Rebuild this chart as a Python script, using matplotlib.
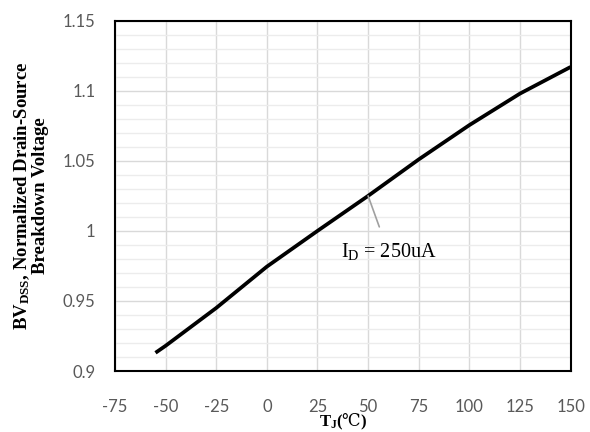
import numpy as np
import matplotlib.pyplot as plt
from matplotlib.ticker import MultipleLocator

# data
temp = [-55, -50, -25, 0, 25, 50, 75, 100, 125, 150]
bv_norm = [0.913, 0.918, 0.945, 0.9745, 1.0, 1.025, 1.051, 1.0755, 1.098, 1.117]
xticks = [-75, -50, -25, 0, 25, 50, 75, 100, 125, 150]
yticks = [0.9, 0.95, 1.0, 1.05, 1.1, 1.15]
ytick_labels = ["0.9", "0.95", "1", "1.05", "1.1", "1.15"]

plt.rcParams['axes.unicode_minus'] = False
plt.rcParams['mathtext.fontset'] = 'custom'
plt.rcParams['mathtext.rm'] = 'Liberation Serif'
plt.rcParams['mathtext.it'] = 'Liberation Serif:italic'
plt.rcParams['mathtext.bf'] = 'Liberation Serif:bold'
plt.rcParams['mathtext.sf'] = 'DejaVu Serif'

fig = plt.figure(figsize=(5.9, 4.32), dpi=100)
ax = fig.add_axes([0.1949, 0.1412, 0.7722, 0.8108])

ax.plot(temp, bv_norm, color='black', linewidth=2.7, solid_capstyle='butt', zorder=3)

ax.set_xlim(-75, 150)
ax.set_ylim(0.9, 1.15)
ax.set_xticks(xticks)
ax.set_yticks(yticks)
ax.set_yticklabels(ytick_labels)
ax.yaxis.set_minor_locator(MultipleLocator(0.01))

ax.grid(which='major', color='#d9d9d9', linewidth=1.0)
ax.grid(which='minor', axis='y', color='#ececec', linewidth=1.0)
ax.set_axisbelow(True)
ax.tick_params(which='both', length=0, labelsize=12, labelcolor='#595959')
ax.tick_params(axis='x', pad=20)
ax.tick_params(axis='y', pad=14)
for lab in ax.get_xticklabels() + ax.get_yticklabels():
    lab.set_family('Lato')
for s in ax.spines.values():
    s.set_linewidth(1.5)
    s.set_color('black')

ax.set_xlabel(r'T$_\mathbf{J}$($\mathsf{℃}$)', family='Liberation Serif',
              fontweight='bold', fontsize=12, labelpad=-2)
ax.set_ylabel('BV$_\\mathbf{DSS}$, Normalized Drain-Source\nBreakdown Voltage',
              family='Liberation Serif', fontweight='bold', fontsize=13.5,
              labelpad=10, linespacing=1.0)

ax.annotate(r'I$_\mathrm{D}$ = 250uA', xy=(50, 1.025), xytext=(60, 0.985),
            family='Liberation Serif', fontsize=14.5, ha='center', va='center',
            arrowprops=dict(arrowstyle='-', color='#a0a0a0', lw=1.2,
                            shrinkA=9, shrinkB=0))

plt.savefig('out.png', dpi=100)
